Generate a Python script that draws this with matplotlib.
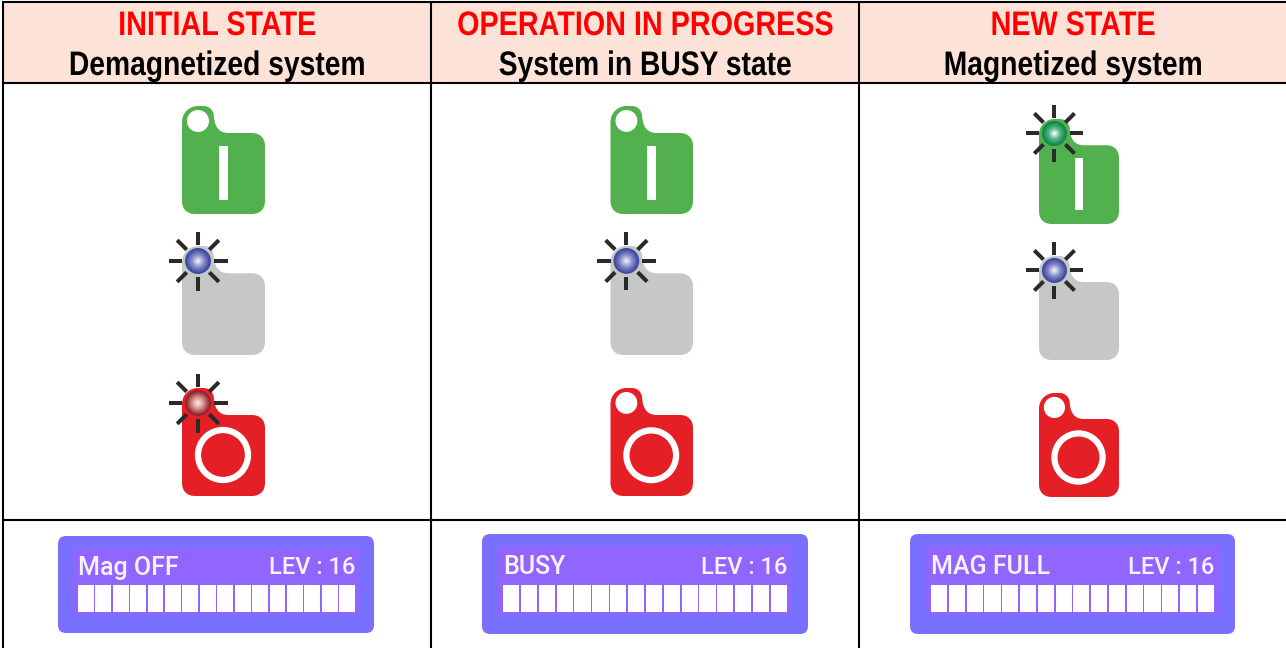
# Tabla de estados del sistema de magnetizacion: encabezados, iconos y pantallas LCD

import matplotlib
matplotlib.use('Agg')
import matplotlib.pyplot as plt
from matplotlib.patches import Circle, FancyBboxPatch, PathPatch, Rectangle
from matplotlib.patheffects import AbstractPathEffect
from matplotlib.path import Path
from matplotlib.transforms import Affine2D
import numpy as np

# Datos

titulos = ['INITIAL STATE', 'OPERATION IN PROGRESS', 'NEW STATE']
subtitulos = ['Demagnetized system', 'System in BUSY state', 'Magnetized system']
lcd_textos = ['Mag OFF', 'BUSY', 'MAG FULL']
lcd_nivel = ['LEV : 16', 'LEV : 16', 'LEV : 16']
lcd_celdas = [16, 16, 16]

# lamparas encendidas por columna: verde, gris, rojo
lampara_on = [[False, True, True], [False, True, False], [True, True, False]]

# Geometria en pixeles de la imagen

col_centros = [217, 645, 1073]
col_lineas = [3, 431, 859]
fila_lineas = [1.8, 82.7, 520]

# (x0, x1, arriba, abajo) de cada icono
iconos = [
    [(182, 265, 106, 214), (182, 265, 246, 355), (182, 265, 388, 496)],
    [(610.5, 693, 106, 214), (610.5, 693, 246, 355), (610.5, 693, 388, 496)],
    [(1039, 1119, 119, 224), (1039, 1119, 256, 360), (1039, 1119, 393, 497)],
]

# x0, x1, y0, y1 de marco, zona interior y celdas
lcd_marco = [(58, 374, 536, 633), (482, 808, 534, 634), (910, 1235, 534, 634)]
lcd_interior = [(73, 360, 548, 614), (498, 792, 546, 614), (926, 1219, 546, 614)]
lcd_zona = [(78, 355, 585, 612), (503, 787, 585, 612), (931, 1214, 585, 612)]

color_icono = ['#52b04f', '#c6c8c7', '#e41f26']
color_lampara = [('#0f8a48', '#55b585', '#ffffff'), ('#3f4ba0', '#8a90cc', '#f5f5fa'), ('#8e2630', '#d98a8a', '#f9f0ee')]


class Estrecho(AbstractPathEffect):
    # Comprime el texto en horizontal, no hay fuente narrow instalada
    def __init__(self, cx, factor):
        super().__init__()
        self.cx = cx
        self.factor = factor

    def draw_path(self, renderer, gc, tpath, affine, rgbFace=None):
        comp = Affine2D().translate(-self.cx, 0).scale(self.factor, 1).translate(self.cx, 0)
        renderer.draw_path(gc, tpath, affine + comp, rgbFace)


def contorno(x0, x1, y0, y1):
    # Silueta del icono sobre una caja base de 82x108
    C, L = Path.CURVE4, Path.LINETO
    tramos = [
        (Path.MOVETO, (0, 16)),
        (C, (0, 7)), (C, (7, 0)), (C, (16, 0)),
        (L, (21, 0)),
        (C, (27, 0)), (C, (31, 4)), (C, (31.5, 10)),
        (C, (32, 20)), (C, (36, 27)), (C, (46, 27)),
        (L, (69, 27)),
        (C, (77, 27)), (C, (82, 32)), (C, (82, 40)),
        (L, (82, 95)),
        (C, (82, 103)), (C, (77, 108)), (C, (69, 108)),
        (L, (13, 108)),
        (C, (5, 108)), (C, (0, 103)), (C, (0, 95)),
        (Path.CLOSEPOLY, (0, 16)),
    ]
    v = np.array([p for _, p in tramos], dtype=float)
    v[:, 0] = x0 + v[:, 0] * (x1 - x0) / 82
    v[:, 1] = y0 + v[:, 1] * (y1 - y0) / 108
    return Path(v, [c for c, _ in tramos])


def mezcla(a, b, t):
    a = np.array(matplotlib.colors.to_rgb(a))
    b = np.array(matplotlib.colors.to_rgb(b))
    return tuple(a + (b - a) * t)


def lampara(ax, cx, cy, colores, escala=1.0):
    # Rayos y esfera con degradado radial
    borde, medio, brillo = colores
    for ang in np.arange(0, 360, 45):
        dx, dy = np.cos(np.radians(ang)), np.sin(np.radians(ang))
        ax.plot([cx + 16 * escala * dx, cx + 29.5 * escala * dx], [cy + 16 * escala * dy, cy + 29.5 * escala * dy],
                color='#2a2a2a', lw=2.9, solid_capstyle='butt', zorder=4)
    r = 13 * escala
    ax.add_patch(Circle((cx, cy), r, fc=borde, ec='none', zorder=5))
    for t in np.linspace(0, 1, 30):
        if t < 0.5:
            col = mezcla(borde, medio, t / 0.5)
        else:
            col = mezcla(medio, brillo, (t - 0.5) / 0.5)
        ax.add_patch(Circle((cx, cy), (r - 1.5) * (1 - t) + 0.4, fc=col, ec='none', zorder=5))


fig = plt.figure(figsize=(12.86, 6.48), dpi=100)
ax = fig.add_axes([0, 0, 1, 1])
ax.set_xlim(0, 1286)
ax.set_ylim(648, 0)
ax.axis('off')

# Encabezado y lineas de la tabla

ax.add_patch(Rectangle((3, 1.8), 1283, 81, fc='#fde3d7', ec='none', zorder=1))

for y in fila_lineas:
    ax.plot([2, 1286], [y, y], color='black', lw=1.5, solid_capstyle='butt', zorder=2)
for x in col_lineas:
    ax.plot([x, x], [1, 648], color='black', lw=1.5, solid_capstyle='butt', zorder=2)

for i in range(3):
    ax.text(col_centros[i], 35, titulos[i], color='#ff0000', fontsize=24.5, fontweight='bold',
            family='Liberation Sans', ha='center', va='baseline', zorder=3,
            path_effects=[Estrecho(col_centros[i], 0.845)])
    ax.text(col_centros[i], 75, subtitulos[i], color='black', fontsize=24.5, fontweight='bold',
            family='Liberation Sans', ha='center', va='baseline', zorder=3,
            path_effects=[Estrecho(col_centros[i], 0.83)])

# Iconos

for i in range(3):
    for j in range(3):
        x0, x1, y0, y1 = iconos[i][j]
        ax.add_patch(PathPatch(contorno(x0, x1, y0, y1), fc=color_icono[j], ec='none', zorder=3))
        k = (x1 - x0) / 83
        cx, cy = x0 + 16 * k, y0 + 15 * k
        if j == 0:
            bx = x0 + 37 * k
            ax.add_patch(Rectangle((bx, y0 + 40 * (y1 - y0) / 108), 9 * k, 54 * (y1 - y0) / 108,
                                   fc='white', ec='none', zorder=4))
        if j == 2:
            rx, ry = x0 + 41 * k, y1 - 41 * k
            ax.add_patch(Circle((rx, ry), 25 * k, fc='none', ec='white', lw=4.5, zorder=4))
        if lampara_on[i][j]:
            lampara(ax, cx, cy, color_lampara[j], k)
        elif j != 1:
            ax.add_patch(Circle((cx, cy), 11 * k, fc='white', ec='none', zorder=4))

# Pantallas LCD

for i in range(3):
    x0, x1, y0, y1 = lcd_marco[i]
    ax.add_patch(FancyBboxPatch((x0 + 8, y0 + 8), x1 - x0 - 16, y1 - y0 - 16, boxstyle='round,pad=8,rounding_size=8',
                                fc='#7a70ff', ec='none', zorder=3))
    x0, x1, y0, y1 = lcd_interior[i]
    ax.add_patch(FancyBboxPatch((x0 + 3, y0 + 3), x1 - x0 - 6, y1 - y0 - 6, boxstyle='round,pad=3,rounding_size=3',
                                fc='#9166ff', ec='none', zorder=4))
    x0, x1, y0, y1 = lcd_zona[i]
    n = lcd_celdas[i]
    paso = (x1 - x0 + 1.6) / n
    for c in range(n):
        ax.add_patch(Rectangle((x0 + c * paso, y0), paso - 1.6, y1 - y0, fc='white', ec='none', zorder=5))
    ax.text(x0, 574.5, lcd_textos[i], color='#f6f2ff', fontsize=18, fontweight='medium', family='Roboto', ha='left',
            va='baseline', zorder=5)
    ax.text(x1, 574.5, lcd_nivel[i], color='#f6f2ff', fontsize=17, fontweight='medium', family='Roboto', ha='right',
            va='baseline', zorder=5)

plt.savefig('out.png', dpi=100)
plt.close()
